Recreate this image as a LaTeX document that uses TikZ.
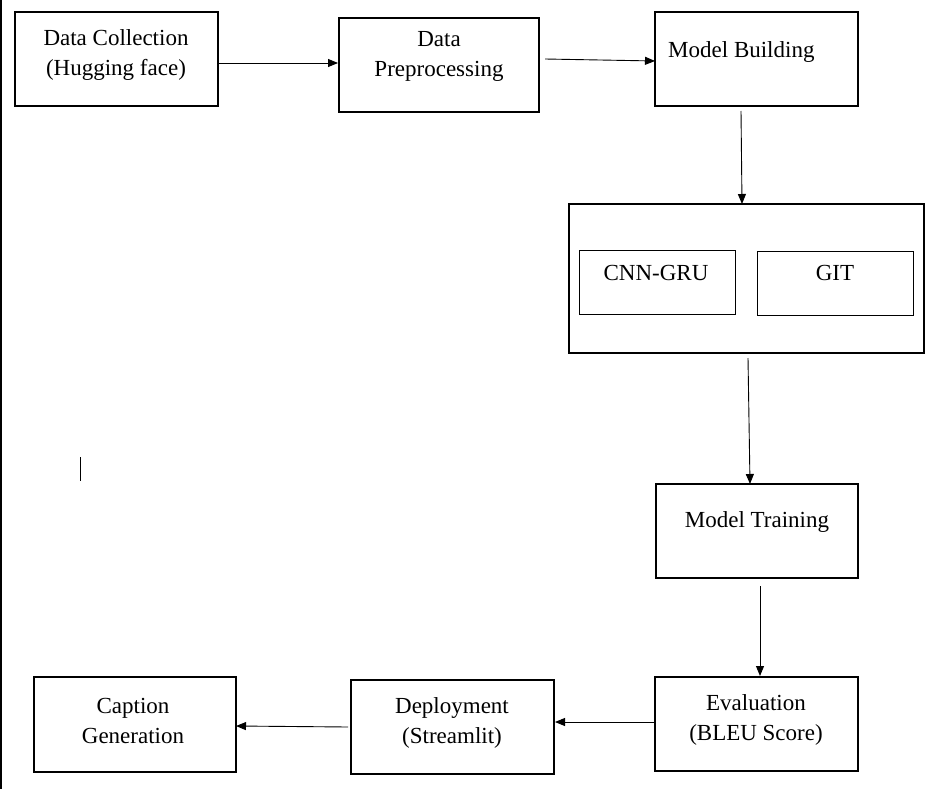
\documentclass[tikz,border=0pt]{standalone}
\usepackage{fontspec}
\setmainfont{Liberation Serif}
\usetikzlibrary{arrows.meta}
\begin{document}
\begin{tikzpicture}[x=1pt,y=-1pt,
  box/.style={draw,line width=2pt},
  inbox/.style={draw,line width=0.9pt},
  lbl/.style={font=\fontsize{23}{30}\selectfont,align=center,inner sep=0pt},
  arr/.style={line width=0.9pt,-{Triangle[length=10pt,width=8pt]}}]
\useasboundingbox (0,0) rectangle (936,789);
\draw[line width=1.5pt] (1,0) -- (1,789);
% boxes
\node[box,minimum width=203pt,minimum height=94pt,inner sep=0pt] (dc) at (116.5,59) {};
\node[box,minimum width=200pt,minimum height=94pt,inner sep=0pt] (dp) at (439,65) {};
\node[box,minimum width=203pt,minimum height=94pt,inner sep=0pt] (mb) at (756.5,59) {};
\node[box,minimum width=355pt,minimum height=149pt,inner sep=0pt] (ct) at (746.5,278.5) {};
\node[inbox,minimum width=156pt,minimum height=64pt,inner sep=0pt] (cg) at (657,282) {};
\node[inbox,minimum width=156pt,minimum height=64pt,inner sep=0pt] (git) at (835,283) {};
\node[box,minimum width=202pt,minimum height=94pt,inner sep=0pt] (mt) at (757,531) {};
\node[box,minimum width=203pt,minimum height=94pt,inner sep=0pt] (ev) at (756.5,724) {};
\node[box,minimum width=203pt,minimum height=94pt,inner sep=0pt] (dep) at (452.5,727) {};
\node[box,minimum width=202pt,minimum height=95pt,inner sep=0pt] (cap) at (135,724.5) {};
% labels
\node[lbl] (tdc) at (116,55) {Data Collection\\(Hugging face)};
\node[lbl] (tdp) at (439,56) {Data\\Preprocessing};
\node[lbl,anchor=west] (tmb) at (668,52) {Model Building};
\node[lbl] (tcg) at (656,273) {CNN-GRU};
\node[lbl] (tgit) at (835,273) {GIT};
\node[lbl] (tmt) at (757,522) {Model Training};
\node[lbl] (tev) at (756,720) {Evaluation\\(BLEU Score)};
\node[lbl] (tdep) at (452,723) {Deployment\\(Streamlit)};
\node[lbl] (tcap) at (133,721) {Caption\\Generation};
% connectors
\coordinate (s1) at (218,63);
\draw[arr] (s1) -- (s1 -| dp.west);
\coordinate (s2) at (545,59);
\coordinate (e2) at (655,61);
\draw[arr] (s2) -- (e2);
\coordinate (s3) at (741,111);
\coordinate (e3) at (742,204);
\draw[arr] (s3) -- (e3);
\coordinate (s4) at (748,358);
\coordinate (e4) at (750,484);
\draw[arr] (s4) -- (e4);
\coordinate (s5) at (760,586);
\draw[arr] (s5) -- (s5 |- ev.north);
\coordinate (s6) at (655,722);
\draw[arr] (s6) -- (s6 -| dep.east);
\coordinate (s7) at (348,727);
\coordinate (e7) at (236,726);
\draw[arr] (s7) -- (e7);
% stray mark
\coordinate (m1) at (80,457);
\coordinate (m2) at (80,481);
\draw[line width=1pt] (m1) -- (m2);
\end{tikzpicture}
\end{document}
